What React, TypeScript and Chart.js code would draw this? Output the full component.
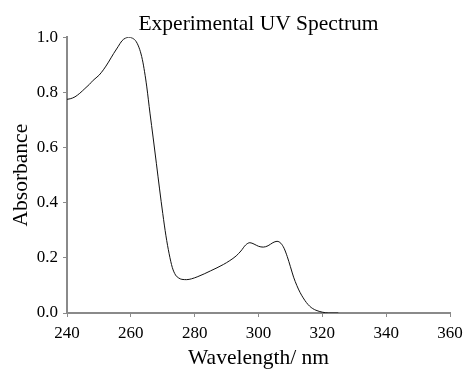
import React, { useEffect, useRef } from "react";
import { Chart, registerables } from "chart.js";

Chart.register(...registerables);

const wavelengths = [
  240, 241, 242.5, 244, 245.6, 247, 248.2, 250, 251.4, 253, 254.6, 256, 257.2, 258.3, 259.3, 260.5, 261.7, 262.8,
  263.6, 264.3, 265, 266, 267, 268, 269, 270, 271, 272, 273, 274, 275, 276, 277.5, 279, 281, 283, 285, 287, 289,
  291, 293, 294.5, 296, 297.3, 298.6, 300, 301.5, 303, 304.5, 305.8, 307, 308, 309, 310, 311, 312, 313, 314, 315,
  316, 317, 318, 319, 320, 321, 322, 325,
];
const absorbance = [
  0.775, 0.777, 0.784, 0.797, 0.814, 0.829, 0.844, 0.862, 0.882, 0.91, 0.941, 0.966, 0.987, 0.997, 1.0, 0.997,
  0.984, 0.955, 0.92, 0.875, 0.82, 0.725, 0.635, 0.543, 0.45, 0.361, 0.28, 0.215, 0.165, 0.138, 0.127, 0.122,
  0.121, 0.124, 0.132, 0.142, 0.153, 0.164, 0.176, 0.19, 0.207, 0.225, 0.247, 0.255, 0.25, 0.242, 0.239, 0.244,
  0.255, 0.26, 0.253, 0.235, 0.205, 0.168, 0.13, 0.1, 0.075, 0.055, 0.038, 0.025, 0.016, 0.01, 0.006, 0.003,
  0.001, 0.0, 0.0,
];
const xTicks = [240, 260, 280, 300, 320, 340, 360];
const yTicks = [0, 0.2, 0.4, 0.6, 0.8, 1.0];

const titleText = "Experimental UV Spectrum";
const xTitle = "Wavelength/ nm";
const yTitle = "Absorbance";

export default function App() {
  const ref = useRef<HTMLCanvasElement | null>(null);
  useEffect(() => {
    if (!ref.current) return;
    const serif = "'Liberation Serif', 'Times New Roman', serif";
    const axisColor = "#8a8a8a";
    const chart = new Chart(ref.current, {
      type: "line",
      data: {
        datasets: [
          {
            data: wavelengths.map((w, i) => ({ x: w, y: absorbance[i] })),
            borderColor: "#111",
            borderWidth: 1,
            pointRadius: 0,
            fill: false,
            cubicInterpolationMode: "monotone",
          },
        ],
      },
      options: {
        animation: false,
        responsive: true,
        maintainAspectRatio: false,
        layout: { padding: { top: 0, right: 15, left: 0, bottom: 0 } },
        plugins: {
          legend: { display: false },
          tooltip: { enabled: false },
          title: {
            display: true,
            text: titleText,
            fullSize: false,
            color: "#000",
            font: { family: serif, size: 21.5, weight: "normal" },
            padding: { top: 11.5, bottom: 0 },
          },
        },
        scales: {
          x: {
            type: "linear",
            min: 240,
            max: 360,
            afterBuildTicks: (s: any) => {
              s.ticks = xTicks.map((v) => ({ value: v }));
            },
            afterFit: (s: any) => {
              s.height = 58;
              s.paddingLeft = 0;
              s.paddingRight = 0;
            },
            ticks: {
              color: "#000",
              font: { family: serif, size: 17 },
              padding: 6,
              maxRotation: 0,
              callback: (v: any) => String(v),
            },
            grid: { display: true, drawOnChartArea: false, drawTicks: true, tickLength: 4, color: axisColor, lineWidth: 1 },
            border: { display: true, color: axisColor, width: 2 },
            title: {
              display: true,
              text: xTitle,
              color: "#000",
              font: { family: serif, size: 21.5 },
              padding: { top: 0, bottom: 0 },
            },
          },
          y: {
            type: "linear",
            min: 0,
            max: 1,
            afterBuildTicks: (s: any) => {
              s.ticks = yTicks.map((v) => ({ value: v }));
            },
            afterFit: (s: any) => {
              s.width = 67;
              s.paddingTop = 0;
              s.paddingBottom = 0;
            },
            ticks: {
              color: "#000",
              font: { family: serif, size: 17 },
              padding: 5,
              callback: (v: any) => Number(v).toFixed(1),
            },
            grid: { display: true, drawOnChartArea: false, drawTicks: true, tickLength: 4, color: axisColor, lineWidth: 1 },
            border: { display: true, color: axisColor, width: 2 },
            title: {
              display: true,
              text: yTitle,
              color: "#000",
              font: { family: serif, size: 21.5 },
              padding: { top: 8, bottom: 0 },
            },
          },
        },
      },
    } as any);
    return () => chart.destroy();
  }, []);
  return (
    <div style={{ position: "absolute", left: 0, top: 0, width: 465, height: 371, background: "#fff" }}>
      <canvas ref={ref} />
    </div>
  );
}
